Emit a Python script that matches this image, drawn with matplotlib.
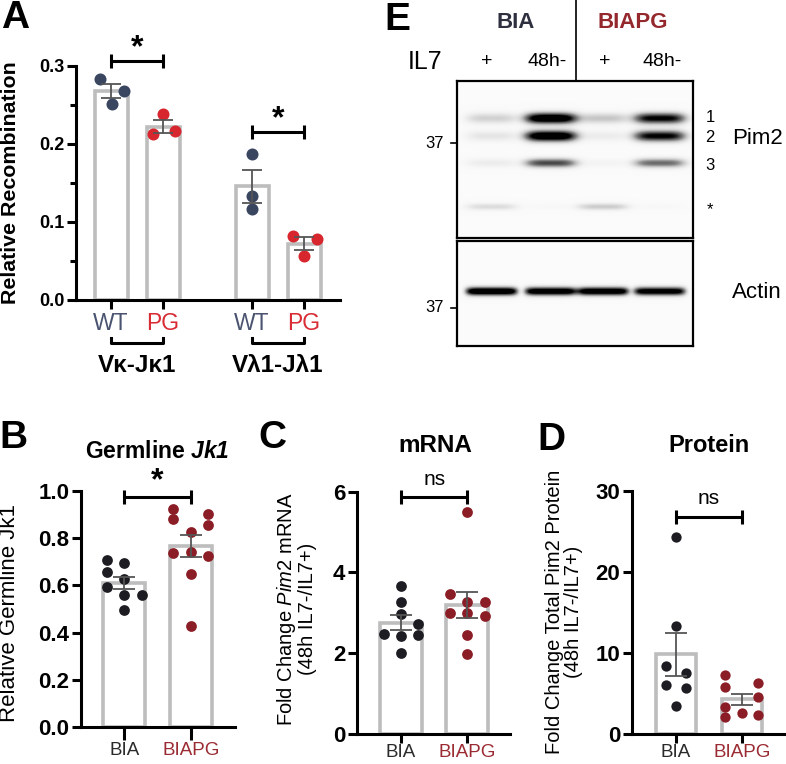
import numpy as np
import matplotlib
matplotlib.use('Agg')
import matplotlib.pyplot as plt

plt.rcParams['font.family'] = ['Liberation Sans', 'DejaVu Sans']
plt.rcParams['mathtext.fontset'] = 'custom'
plt.rcParams['mathtext.rm'] = 'Liberation Sans'
plt.rcParams['mathtext.it'] = 'Liberation Sans:italic'
plt.rcParams['mathtext.bf'] = 'Liberation Sans:bold'
plt.rcParams['mathtext.bfit'] = 'Liberation Sans:italic:bold'

# ---------------- data ----------------
# A: relative recombination (3 mice per group)
a_groups = ['Vκ-Jκ1', 'Vλ1-Jλ1']
a_ticklabels = ['WT', 'PG', 'WT', 'PG']
a_wt_k = [0.283, 0.268, 0.251]
a_pg_k = [0.238, 0.216, 0.212]
a_wt_l = [0.187, 0.133, 0.117]
a_pg_l = [0.082, 0.078, 0.056]

# B-D
bcd_labels = ['BIA', 'BIAPG']
b_bia = [0.706, 0.697, 0.656, 0.626, 0.592, 0.560, 0.561, 0.497]
b_biapg = [0.925, 0.882, 0.903, 0.857, 0.828, 0.737, 0.742, 0.723, 0.648, 0.426]
c_bia = [3.665, 3.277, 2.963, 2.724, 2.485, 2.435, 2.443, 2.014]
c_biapg = [5.49, 3.467, 3.26, 3.26, 2.988, 3.005, 2.93, 2.45, 1.973]
d_bia = [24.36, 13.37, 8.4, 7.57, 6.05, 5.64, 3.46]
d_biapg = [7.28, 5.84, 6.26, 4.53, 3.37, 2.55, 2.14, 2.35]

# E: western blot band intensities (lanes: BIA +, BIA 48h-, BIAPG +, BIAPG 48h-)
lane_labels = ['+', '48h-', '+', '48h-']
pim2_bands = ['1', '2', '3', '*']
pim2_int = [[0.20, 1.00, 0.24, 0.80],
            [0.12, 1.00, 0.09, 0.80],
            [0.09, 0.60, 0.05, 0.50],
            [0.16, 0.02, 0.22, 0.02]]
actin_int = [1.0, 0.95, 0.95, 0.9]

# ---------------- layout / style ----------------
W, H = 786, 764
BAR_EDGE = '#bdbdbd'
ERR = '#555555'
WT_C, PG_C = '#3a4660', '#d7262e'
WT_T, PG_T = '#4a5470', '#d92c34'
BIA_C, BIAPG_C = '#1c1c22', '#8b1d26'
BIA_T, BIAPG_T = '#2a2a2a', '#9b2b33'

fig = plt.figure(figsize=(W / 100, H / 100), dpi=100)


def rect(l, t, r, b):
    return [l / W, 1 - b / H, (r - l) / W, (b - t) / H]


def ftxt(x, y, s, **kw):
    kw.setdefault('ha', 'center')
    kw.setdefault('va', 'center')
    fig.text(x / W, 1 - y / H, s, **kw)


def style(ax, fs, xlen, xpad):
    for s in ['top', 'right']:
        ax.spines[s].set_visible(False)
    for s in ['left', 'bottom']:
        ax.spines[s].set_linewidth(2.2)
    ax.tick_params(axis='y', width=2.2, length=6.5, labelsize=fs, pad=2)
    ax.tick_params(axis='x', width=2.2, length=xlen, labelsize=13.5, pad=xpad)
    for t in ax.get_yticklabels():
        t.set_fontweight('bold')


def dotbar(ax, pos, groups, jit, colors, width, ms, capsize):
    for p, v, j, c in zip(pos, groups, jit, colors):
        v = np.array(v)
        m = v.mean()
        sem = v.std(ddof=1) / np.sqrt(len(v))
        ax.bar(p, m, width, color='white', edgecolor=BAR_EDGE, linewidth=2.6, zorder=1)
        ax.scatter(p + np.array(j), v, s=ms, color=c, zorder=3, linewidths=0)
        ax.errorbar(p, m, yerr=sem, color=ERR, capsize=capsize, elinewidth=1.3,
                    capthick=1.3, zorder=4)


def sig(ax, x0, x1, y, dy, txt, ty, **kw):
    ax.plot([x0, x1], [y, y], color='k', lw=2.2, clip_on=False, solid_capstyle='butt')
    for x in (x0, x1):
        ax.plot([x, x], [y - dy, y + dy], color='k', lw=2.2, clip_on=False,
                solid_capstyle='butt')
    ax.text((x0 + x1) / 2, ty, txt, ha='center', va='center', clip_on=False, **kw)


# ---------------- A ----------------
axA = fig.add_axes(rect(76, 65.7, 340, 300))
a_pos = [0, 1, 2.71, 3.71]
a_jit = [[-0.21, 0.24, 0.02], [0.0, 0.22, -0.19], [0, 0, 0], [-0.22, 0.24, 0.0]]
dotbar(axA, a_pos, [a_wt_k, a_pg_k, a_wt_l, a_pg_l], a_jit,
       [WT_C, PG_C, WT_C, PG_C], 0.635, 75, 7)
axA.set_xlim(-0.673, 4.40)
axA.set_ylim(0, 0.3)
axA.set_yticks([0, 0.1, 0.2, 0.3], ['0.0', '0.1', '0.2', '0.3'])
axA.set_yticks([0.05, 0.15, 0.25], minor=True)
axA.set_xticks(a_pos, a_ticklabels)
style(axA, 13, 6.5, 2)
axA.tick_params(axis='y', which='minor', width=2.2, length=4)
axA.tick_params(axis='x', labelsize=16.5)
for t, c in zip(axA.get_xticklabels(), [WT_T, PG_T, WT_T, PG_T]):
    t.set_color(c)
sig(axA, a_pos[0], a_pos[1], 0.3064, 0.009, '*', 0.322, fontsize=23, fontweight='bold')
sig(axA, a_pos[2], a_pos[3], 0.2155, 0.009, '*', 0.231, fontsize=23, fontweight='bold')
tr = axA.get_xaxis_transform()
for i, g in enumerate(a_groups):
    x0, x1 = a_pos[2 * i], a_pos[2 * i + 1]
    axA.plot([x0, x0, x1, x1], [-0.162, -0.1835, -0.1835, -0.162], color='k', lw=2.2,
             transform=tr, clip_on=False)
    axA.text((x0 + x1) / 2, -0.28, g, transform=tr, ha='center', va='center',
             fontsize=17.5, fontweight='bold')
ftxt(11, 183, 'Relative Recombination', rotation=90, fontsize=15.4, fontweight='bold')
ftxt(15, 0.5, 'A', fontsize=28, fontweight='bold', va='top')

# ---------------- B ----------------
axB = fig.add_axes(rect(81, 491, 235, 727))
dotbar(axB, [0, 1], [b_bia, b_biapg],
       [[-0.26, 0, -0.26, 0, -0.26, 0, 0.26, 0],
        [-0.26, -0.26, 0.26, 0.26, 0, -0.26, 0, 0.26, 0, 0]],
       [BIA_C, BIAPG_C], 0.63, 60, 8)
axB.set_xlim(-0.652, 1.667)
axB.set_ylim(0, 1.0)
axB.set_yticks(np.arange(0, 1.01, 0.2), ['0.0', '0.2', '0.4', '0.6', '0.8', '1.0'])
axB.set_xticks([0, 1], bcd_labels)
style(axB, 16, 9, 2)
sig(axB, 0, 1, 0.973, 0.03, '*', 1.04, fontsize=23, fontweight='bold')
ftxt(10, 613, 'Relative Germline Jk1', rotation=90, fontsize=16)
ftxt(157, 452, r'Germline $\mathbfit{Jk1}$', fontsize=16.5, fontweight='bold')
ftxt(13, 438, 'B', fontsize=28, fontweight='bold')

# ---------------- C ----------------
axC = fig.add_axes(rect(357, 491.7, 510, 734))
dotbar(axC, [0, 1], [c_bia, c_biapg],
       [[0, 0, 0, 0.26, -0.25, 0, 0.26, 0],
        [0, -0.26, 0, 0.26, -0.26, 0, 0.26, 0, 0]],
       [BIA_C, BIAPG_C], 0.63, 60, 8)
axC.set_xlim(-0.664, 1.644)
axC.set_ylim(0, 6)
axC.set_yticks([0, 2, 4, 6])
axC.set_xticks([0, 1], bcd_labels)
style(axC, 16, 6.5, 1)
sig(axC, 0, 1, 5.86, 0.17, 'ns', 6.3, fontsize=15)
ftxt(296, 609, 'Fold Change $\\mathit{Pim2}$ mRNA\n(48h IL7-/IL7+)', rotation=90,
     fontsize=14.5, linespacing=1.05)
ftxt(435, 445, 'mRNA', fontsize=17.5, fontweight='bold')
ftxt(272, 438, 'C', fontsize=28, fontweight='bold')

# ---------------- D ----------------
axD = fig.add_axes(rect(632, 491, 786, 734))
dotbar(axD, [0, 1], [d_bia, d_biapg],
       [[0, 0, -0.15, 0.15, -0.15, 0.15, 0],
        [-0.26, -0.26, 0.25, 0.25, -0.26, 0, -0.26, 0.25]],
       [BIA_C, BIAPG_C], 0.62, 55, 8)
axD.set_xlim(-0.667, 1.667)
axD.set_ylim(0, 30)
axD.set_yticks([0, 10, 20, 30])
axD.set_xticks([0, 1], bcd_labels)
style(axD, 16, 6.5, 1)
sig(axD, 0, 1, 26.75, 0.86, 'ns', 29.1, fontsize=15)
ftxt(564, 612, 'Fold Change Total Pim2 Protein\n(48h IL7-/IL7+)', rotation=90,
     fontsize=14.5, linespacing=1.05)
ftxt(709, 445, 'Protein', fontsize=17, fontweight='bold')
ftxt(551, 440, 'D', fontsize=28, fontweight='bold')

for ax in (axB, axC, axD):
    for t, c in zip(ax.get_xticklabels(), [BIA_T, BIAPG_T]):
        t.set_color(c)

# ---------------- E: blot ----------------
lane_x = [34.7, 93.7, 146.0, 202.7]
bw = 236


def blot(h, rows, inten, sig_y, pw):
    yy, xx = np.mgrid[0:h, 0:bw] + 0.5
    img = np.full((h, bw), 0.035)
    for r, row_i, sy in zip(rows, inten, sig_y):
        for lx, I in zip(lane_x, row_i):
            prof = np.exp(-np.abs((xx - lx) / 26.0) ** pw)
            img += 1.25 * I * prof * np.exp(-((yy - r) / sy) ** 2)
    return np.clip(img, 0, 1)


img1 = blot(157, [37.3, 55.0, 82.0, 125.7], pim2_int, [5.5, 5.5, 4.5, 3.5], 4)
img2 = blot(105, [50.3], [actin_int], [4.2], 8)
for (t, b), img in zip([(81, 238), (240.7, 345.7)], [img1, img2]):
    ax = fig.add_axes(rect(457.3, t, 693.3, b))
    ax.imshow(img, cmap='Greys', vmin=0, vmax=1, extent=(0, bw, img.shape[0], 0),
              aspect='auto', interpolation='bilinear')
    ax.set_xticks([])
    ax.set_yticks([])
    for s in ax.spines.values():
        s.set_linewidth(1.6)

ftxt(516, 22, 'BIA', fontsize=16, fontweight='bold', color='#2e3040')
ftxt(633, 22, 'BIAPG', fontsize=16, fontweight='bold', color='#94282d')
ftxt(425, 62, 'IL7', fontsize=18)
for x, s in zip([487, 547, 605, 662], lane_labels):
    ftxt(x, 62, s, fontsize=14)
fig.add_artist(plt.Line2D([575.7 / W] * 2, [1, 1 - 80 / H], color='k', lw=1.2))
for y in (143, 308):
    ftxt(435, y, '37', fontsize=12)
    fig.add_artist(plt.Line2D([451 / W, 457 / W], [1 - y / H] * 2, color='k', lw=1.2))
for y, s in zip([118, 137, 165, 210], pim2_bands):
    ftxt(710, y, s, fontsize=12)
ftxt(757, 138, 'Pim2', fontsize=16)
ftxt(757, 293, 'Actin', fontsize=16)
ftxt(397, 20, 'E', fontsize=28, fontweight='bold')

fig.savefig('out.png', dpi=100)
